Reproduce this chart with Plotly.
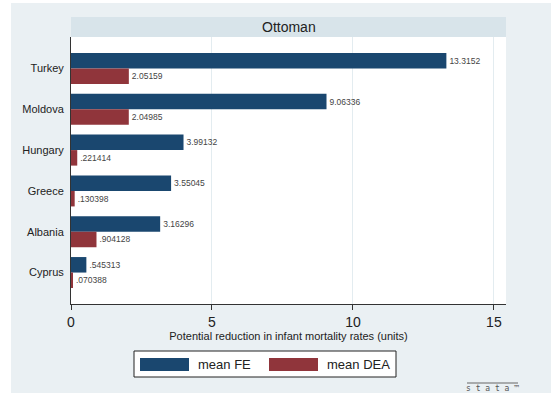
import plotly.graph_objects as go

# Data
countries = ["Turkey", "Moldova", "Hungary", "Greece", "Albania", "Cyprus"]
mean_fe = [13.3152, 9.06336, 3.99132, 3.55045, 3.16296, 0.545313]
mean_dea = [2.05159, 2.04985, 0.221414, 0.130398, 0.904128, 0.070388]
x_ticks = [0, 5, 10, 15]

FE_COLOR = "#1a476f"
DEA_COLOR = "#90353b"
BG = "#eaf0f3"
BAND = "#d8e4ea"
GRID = "#e3ecf0"
INK = "#222222"


def stata_fmt(v):
    s = f"{v:.6g}"
    if s.startswith("0."):
        s = s[1:]
    return s


W, H = 551, 399
L, R, T, B = 71, 45, 37, 95
pw, ph = W - L - R, H - T - B


def px(x):
    return (x - L) / pw


def py(y):
    return (H - B - y) / ph


fig = go.Figure()
fig.add_trace(go.Bar(
    y=countries, x=mean_fe, orientation="h", name="mean FE",
    marker=dict(color=FE_COLOR, line=dict(width=0)),
    text=[stata_fmt(v) for v in mean_fe], textposition="outside",
    textfont=dict(size=8.5, color="#444444"), cliponaxis=False,
))
fig.add_trace(go.Bar(
    y=countries, x=mean_dea, orientation="h", name="mean DEA",
    marker=dict(color=DEA_COLOR, line=dict(width=0)),
    text=[stata_fmt(v) for v in mean_dea], textposition="outside",
    textfont=dict(size=8.5, color="#444444"), cliponaxis=False,
))

shapes = [
    # white page margins around the graph region
    dict(type="rect", xref="paper", yref="paper", x0=px(0), x1=px(11), y0=py(H), y1=py(0),
         fillcolor="white", line=dict(width=0), layer="below"),
    dict(type="rect", xref="paper", yref="paper", x0=px(0), x1=px(W), y0=py(3), y1=py(0),
         fillcolor="white", line=dict(width=0), layer="below"),
    dict(type="rect", xref="paper", yref="paper", x0=px(0), x1=px(W), y0=py(H), y1=py(393),
         fillcolor="white", line=dict(width=0), layer="below"),
    # subtitle band
    dict(type="rect", xref="paper", yref="paper", x0=0, x1=1, y0=1, y1=py(17),
         fillcolor=BAND, line=dict(width=0)),
    # legend frame and swatches
    dict(type="rect", xref="paper", yref="paper", x0=px(134), x1=px(396), y0=py(377), y1=py(351),
         fillcolor="white", line=dict(color=INK, width=1)),
    dict(type="rect", xref="paper", yref="paper", x0=px(140), x1=px(189), y0=py(371), y1=py(358),
         fillcolor=FE_COLOR, line=dict(width=0)),
    dict(type="rect", xref="paper", yref="paper", x0=px(269), x1=px(318), y0=py(371), y1=py(358),
         fillcolor=DEA_COLOR, line=dict(width=0)),
    # overline of the stata mark
    dict(type="line", xref="paper", yref="paper", x0=px(467), x1=px(518), y0=py(383), y1=py(383),
         line=dict(color="#666666", width=1)),
]

annotations = [
    dict(text="Ottoman", xref="paper", yref="paper", x=0.5, y=py(27), showarrow=False,
         font=dict(size=14, color=INK), xanchor="center", yanchor="middle"),
    dict(text="mean FE", xref="paper", yref="paper", x=px(196), y=py(364.5), showarrow=False,
         font=dict(size=13, color=INK), xanchor="left", yanchor="middle"),
    dict(text="mean DEA", xref="paper", yref="paper", x=px(325), y=py(364.5), showarrow=False,
         font=dict(size=13, color=INK), xanchor="left", yanchor="middle"),
    dict(text="s t a t a ™", xref="paper", yref="paper", x=px(492), y=py(388.5), showarrow=False,
         font=dict(size=8, color="#555555", family="DejaVu Sans Mono"),
         xanchor="center", yanchor="middle"),
]

fig.update_layout(
    width=W, height=H,
    margin=dict(l=L, r=R, t=T, b=B, pad=0),
    paper_bgcolor=BG, plot_bgcolor="white",
    font=dict(family="Liberation Sans, Arial, sans-serif", color=INK),
    barmode="group", bargap=0.24, bargroupgap=0,
    showlegend=False,
    shapes=shapes, annotations=annotations,
    xaxis=dict(
        range=[0, 15.43], tickvals=x_ticks, ticktext=[str(t) for t in x_ticks],
        showgrid=True, gridcolor=GRID, gridwidth=1, zeroline=False,
        showline=True, linecolor="#333333", linewidth=1,
        ticks="outside", ticklen=5, tickcolor="#333333",
        tickfont=dict(size=14, color=INK),
        title=dict(text="Potential reduction in infant mortality rates (units)",
                   font=dict(size=11, color=INK), standoff=2),
    ),
    yaxis=dict(
        type="category", categoryorder="array", categoryarray=countries,
        range=[5.77, -0.77],
        showgrid=False, zeroline=False,
        showline=True, linecolor="#333333", linewidth=1,
        ticks="", ticklabelstandoff=4,
        tickfont=dict(size=11, color=INK),
    ),
)

fig.write_html("out.html")
